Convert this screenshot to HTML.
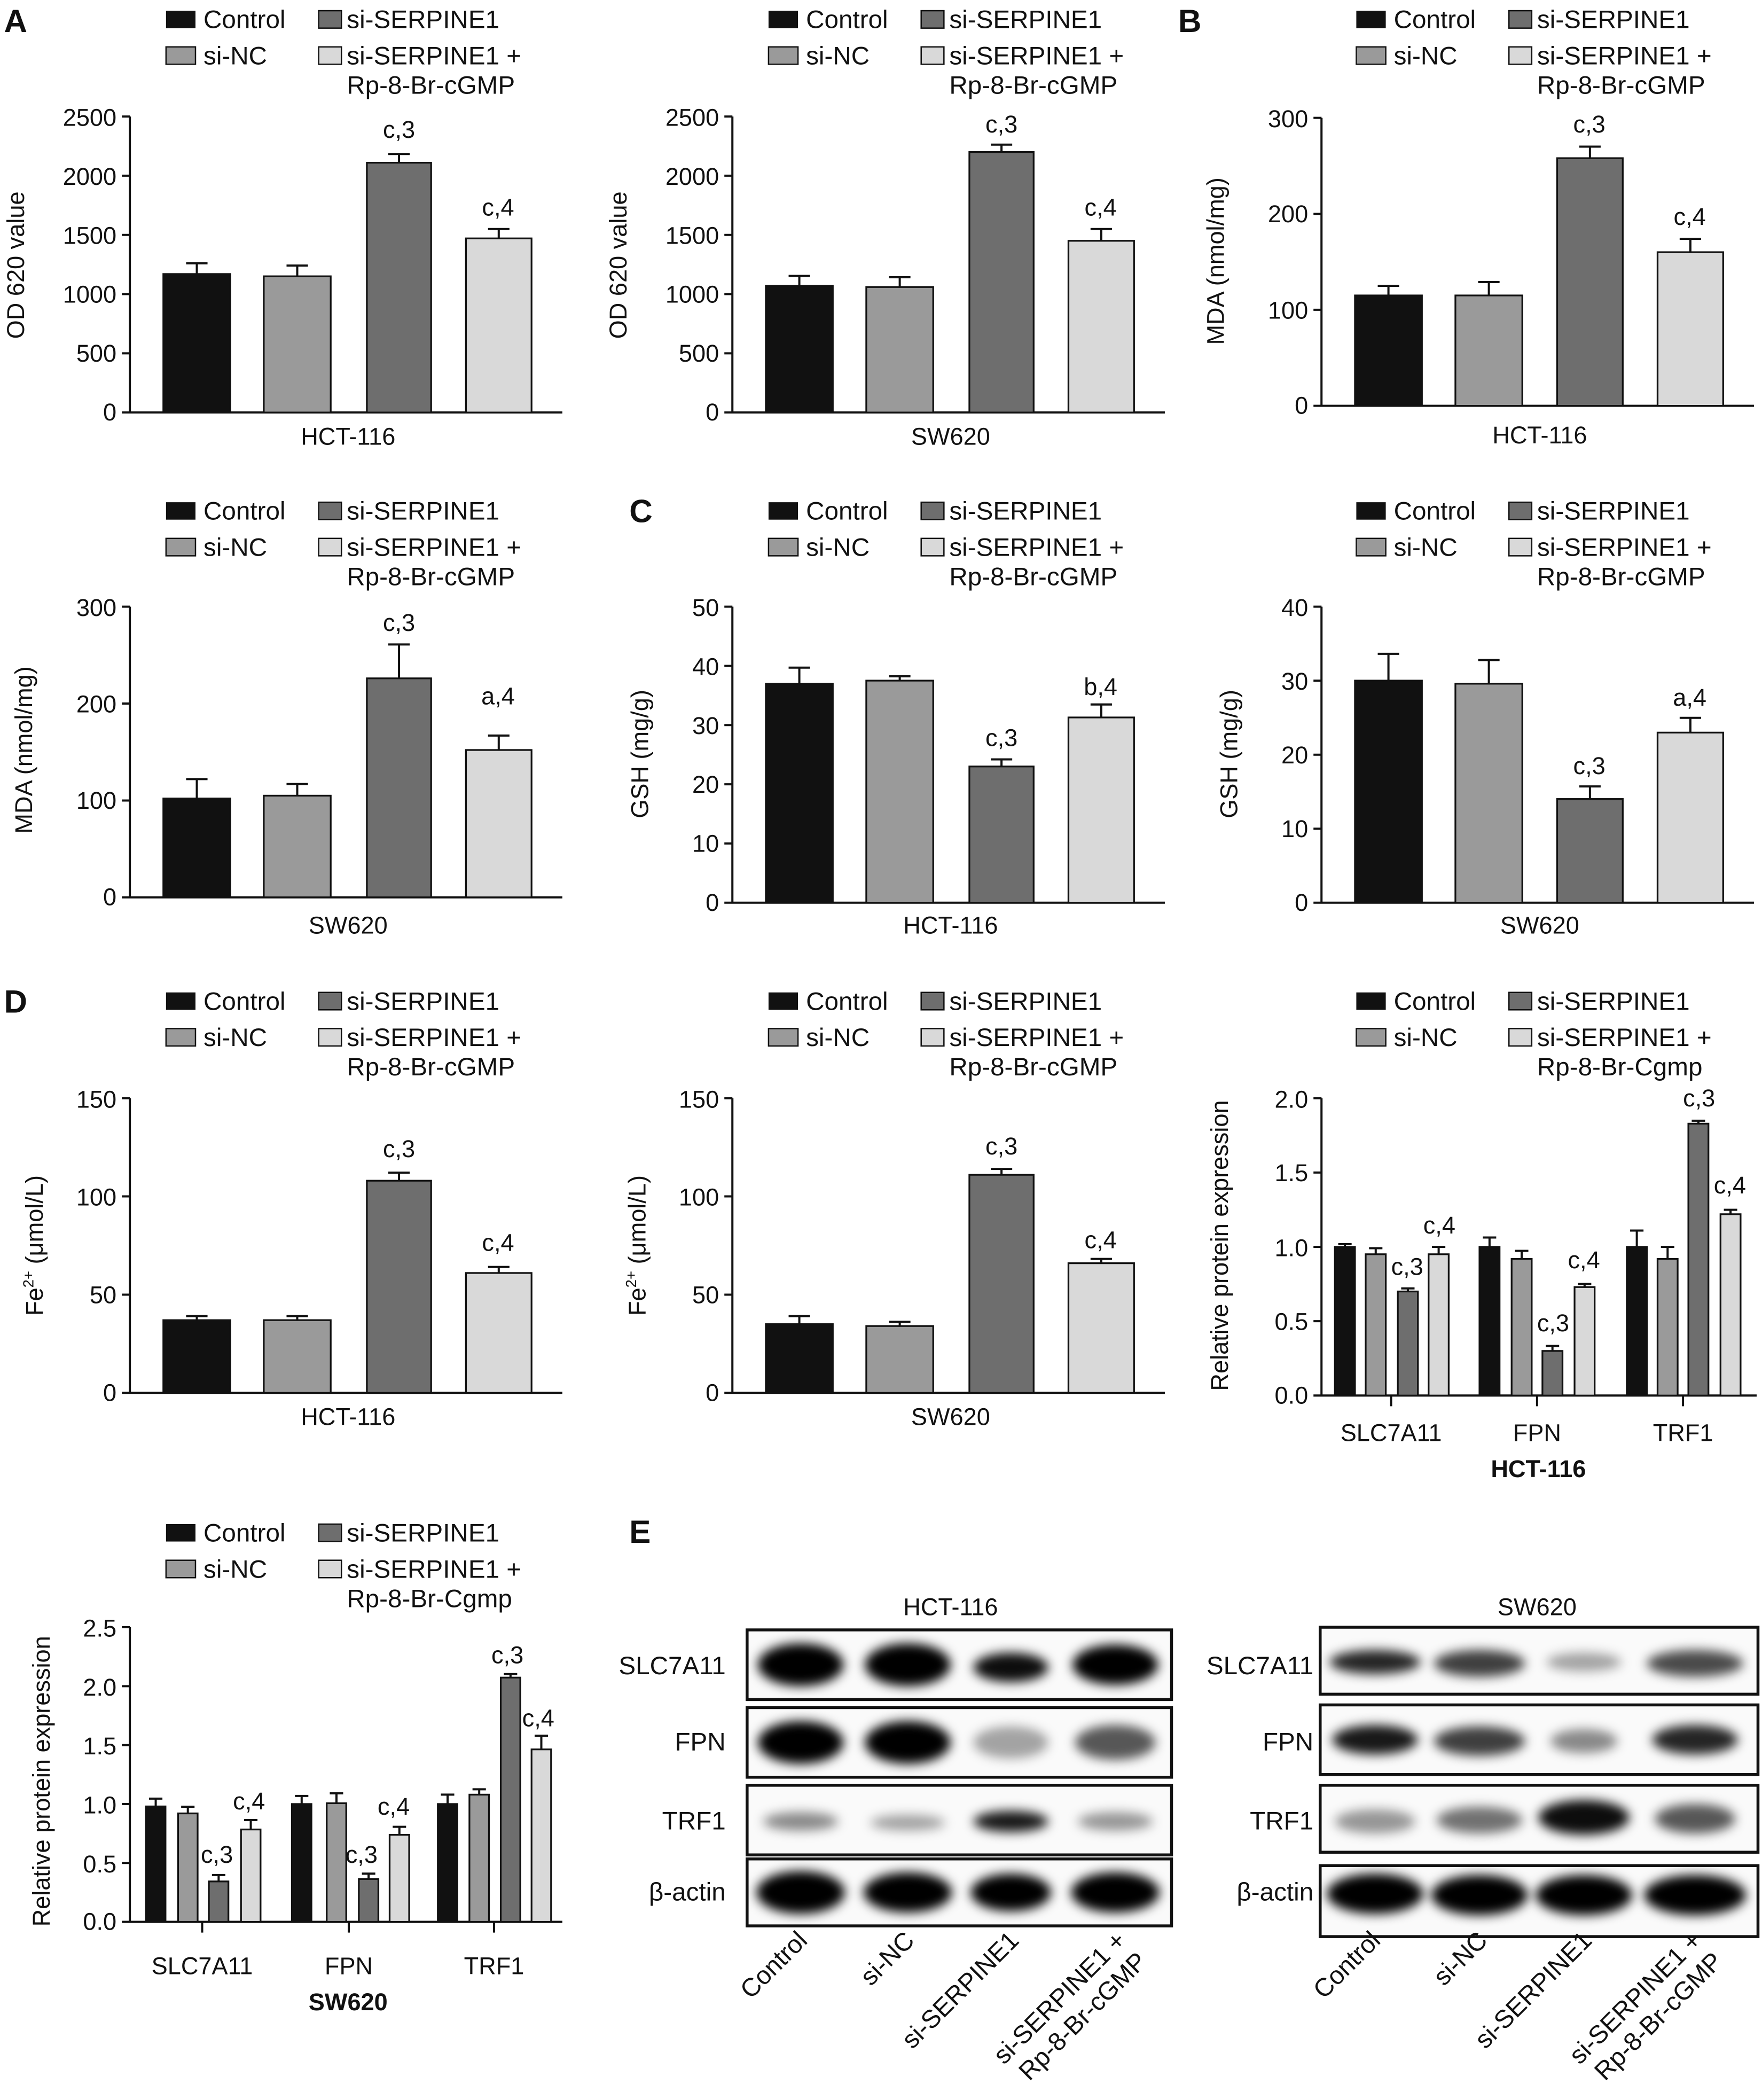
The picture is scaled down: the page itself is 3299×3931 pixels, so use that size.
<!DOCTYPE html>
<html><head><meta charset="utf-8"><style>
html,body{margin:0;padding:0;background:#fff}
svg{display:block}
text{font-family:"Liberation Sans",sans-serif;fill:#111}
.lg{font-size:19px}
.tk{font-size:18px}
.an{font-size:18px;text-anchor:middle}
.yl{font-size:18px;text-anchor:middle}
.xl{font-size:18px;text-anchor:middle}
.pl{font-size:24px;font-weight:bold}
.ax{stroke:#111;stroke-width:1.6;fill:none}
.b0{fill:#111;stroke:#111;stroke-width:1.3}
.b1{fill:#9a9a9a;stroke:#111;stroke-width:1.3}
.b2{fill:#6e6e6e;stroke:#111;stroke-width:1.3}
.b3{fill:#d9d9d9;stroke:#111;stroke-width:1.3}
.e{stroke:#111;stroke-width:1.6;fill:none}
</style></head><body>
<svg width="3299" height="3931" viewBox="0 0 1316 1568" preserveAspectRatio="none" xmlns="http://www.w3.org/2000/svg">
<defs>
<g id="leg">
<rect x="0" y="8" width="22" height="13" fill="#111"/><text class="lg" x="28" y="21">Control</text>
<rect x="114" y="8" width="17" height="13" fill="#6e6e6e" stroke="#111"/><text class="lg" x="135" y="21">si-SERPINE1</text>
<rect x="0" y="35" width="22" height="13" fill="#9a9a9a" stroke="#111"/><text class="lg" x="28" y="48">si-NC</text>
<rect x="114" y="35" width="17" height="13" fill="#d9d9d9" stroke="#111"/><text class="lg" x="135" y="48">si-SERPINE1 +</text>
<text class="lg" x="135" y="70">Rp-8-Br-cGMP</text>
</g>
<g id="leg2">
<rect x="0" y="8" width="22" height="13" fill="#111"/><text class="lg" x="28" y="21">Control</text>
<rect x="114" y="8" width="17" height="13" fill="#6e6e6e" stroke="#111"/><text class="lg" x="135" y="21">si-SERPINE1</text>
<rect x="0" y="35" width="22" height="13" fill="#9a9a9a" stroke="#111"/><text class="lg" x="28" y="48">si-NC</text>
<rect x="114" y="35" width="17" height="13" fill="#d9d9d9" stroke="#111"/><text class="lg" x="135" y="48">si-SERPINE1 +</text>
<text class="lg" x="135" y="70">Rp-8-Br-Cgmp</text>
</g>
<filter id="bl" x="-50%" y="-50%" width="200%" height="200%"><feGaussianBlur stdDeviation="4"/></filter>
</defs>

<text class="pl" x="3" y="24">A</text>
<text class="pl" x="880" y="24">B</text>
<text class="pl" x="470" y="390">C</text>
<text class="pl" x="3" y="756">D</text>
<text class="pl" x="470" y="1152">E</text>

<use href="#leg" x="124" y="0"/><use href="#leg" x="574" y="0"/><use href="#leg" x="1013" y="0"/>
<use href="#leg" x="124" y="367"/><use href="#leg" x="574" y="367"/><use href="#leg" x="1013" y="367"/>
<use href="#leg" x="124" y="733"/><use href="#leg" x="574" y="733"/><use href="#leg2" x="1013" y="733"/>
<use href="#leg2" x="124" y="1130"/>

<!-- A1 -->
<g>
<path class="ax" d="M97,87V308H420M91,87H97M91,131.2H97M91,175.4H97M91,219.6H97M91,263.8H97M91,308H97"/>
<g class="tk" text-anchor="end"><text x="87" y="94">2500</text><text x="87" y="138">2000</text><text x="87" y="182">1500</text><text x="87" y="226">1000</text><text x="87" y="270">500</text><text x="87" y="314">0</text></g>
<text class="yl" transform="translate(18,198) rotate(-90)">OD 620 value</text>
<rect class="b0" x="122" y="204.6" width="50" height="103.4"/><rect class="b1" x="197" y="206.3" width="50" height="101.7"/><rect class="b2" x="274" y="121.5" width="48" height="186.5"/><rect class="b3" x="348" y="178" width="49" height="130"/>
<path class="e" d="M147,204.6V196.6M139,196.6H155M222,206.3V198.3M214,198.3H230M298,121.5V115M290,115H306M372.5,178V171M364.5,171H380.5"/>
<text class="an" x="298" y="103">c,3</text><text class="an" x="372" y="161">c,4</text>
<text class="xl" x="260" y="332">HCT-116</text>
</g>
<!-- A2 -->
<g>
<path class="ax" d="M547,87V308H870M541,87H547M541,131.2H547M541,175.4H547M541,219.6H547M541,263.8H547M541,308H547"/>
<g class="tk" text-anchor="end"><text x="537" y="94">2500</text><text x="537" y="138">2000</text><text x="537" y="182">1500</text><text x="537" y="226">1000</text><text x="537" y="270">500</text><text x="537" y="314">0</text></g>
<text class="yl" transform="translate(468,198) rotate(-90)">OD 620 value</text>
<rect class="b0" x="572" y="213.4" width="50" height="94.6"/><rect class="b1" x="647" y="214.3" width="50" height="93.7"/><rect class="b2" x="724" y="113.5" width="48" height="194.5"/><rect class="b3" x="798" y="179.8" width="49" height="128.2"/>
<path class="e" d="M597,213.4V206M589,206H605M672,214.3V207M664,207H680M748,113.5V108M740,108H756M822.5,179.8V171M814.5,171H830.5"/>
<text class="an" x="748" y="99">c,3</text><text class="an" x="822" y="161">c,4</text>
<text class="xl" x="710" y="332">SW620</text>
</g>
<!-- B1 -->
<g>
<path class="ax" d="M987,88V303H1310M981,88H987M981,159.7H987M981,231.3H987M981,303H987"/>
<g class="tk" text-anchor="end"><text x="977" y="95">300</text><text x="977" y="166">200</text><text x="977" y="238">100</text><text x="977" y="309">0</text></g>
<text class="yl" transform="translate(914,195) rotate(-90)">MDA (nmol/mg)</text>
<rect class="b0" x="1012" y="220.6" width="50" height="82.4"/><rect class="b1" x="1087" y="220.6" width="50" height="82.4"/><rect class="b2" x="1163" y="118.1" width="49" height="184.9"/><rect class="b3" x="1238" y="188.3" width="49" height="114.7"/>
<path class="e" d="M1037,220.6V213.4M1029,213.4H1045M1112,220.6V210.6M1104,210.6H1120M1187.5,118.1V109.5M1179.5,109.5H1195.5M1262.5,188.3V178.3M1254.5,178.3H1270.5"/>
<text class="an" x="1187" y="99">c,3</text><text class="an" x="1262" y="168">c,4</text>
<text class="xl" x="1150" y="331">HCT-116</text>
</g>
<!-- B2 -->
<g>
<path class="ax" d="M97,453V670H420M91,453H97M91,525.3H97M91,597.7H97M91,670H97"/>
<g class="tk" text-anchor="end"><text x="87" y="460">300</text><text x="87" y="532">200</text><text x="87" y="604">100</text><text x="87" y="676">0</text></g>
<text class="yl" transform="translate(24,560) rotate(-90)">MDA (nmol/mg)</text>
<rect class="b0" x="122" y="596.2" width="50" height="73.8"/><rect class="b1" x="197" y="594.1" width="50" height="75.9"/><rect class="b2" x="274" y="506.5" width="48" height="163.5"/><rect class="b3" x="348" y="560" width="49" height="110"/>
<path class="e" d="M147,596.2V581.7M139,581.7H155M222,594.1V585.4M214,585.4H230M298,506.5V481.2M290,481.2H306M372.5,560V549.2M364.5,549.2H380.5"/>
<text class="an" x="298" y="471">c,3</text><text class="an" x="372" y="526">a,4</text>
<text class="xl" x="260" y="697">SW620</text>
</g>
<!-- C1 -->
<g>
<path class="ax" d="M547,453V674H870M541,453H547M541,497.2H547M541,541.4H547M541,585.6H547M541,629.8H547M541,674H547"/>
<g class="tk" text-anchor="end"><text x="537" y="460">50</text><text x="537" y="504">40</text><text x="537" y="548">30</text><text x="537" y="592">20</text><text x="537" y="636">10</text><text x="537" y="680">0</text></g>
<text class="yl" transform="translate(484,563) rotate(-90)">GSH (mg/g)</text>
<rect class="b0" x="572" y="510.5" width="50" height="163.5"/><rect class="b1" x="647" y="508.2" width="50" height="165.8"/><rect class="b2" x="724" y="572.3" width="48" height="101.7"/><rect class="b3" x="798" y="535.7" width="49" height="138.3"/>
<path class="e" d="M597,510.5V498.5M589,498.5H605M672,508.2V505M664,505H680M748,572.3V567M740,567H756M822.5,535.7V526M814.5,526H830.5"/>
<text class="an" x="748" y="557">c,3</text><text class="an" x="822" y="519">b,4</text>
<text class="xl" x="710" y="697">HCT-116</text>
</g>
<!-- C2 -->
<g>
<path class="ax" d="M987,453V674H1310M981,453H987M981,508.25H987M981,563.5H987M981,618.75H987M981,674H987"/>
<g class="tk" text-anchor="end"><text x="977" y="460">40</text><text x="977" y="515">30</text><text x="977" y="570">20</text><text x="977" y="625">10</text><text x="977" y="680">0</text></g>
<text class="yl" transform="translate(924,563) rotate(-90)">GSH (mg/g)</text>
<rect class="b0" x="1012" y="508.2" width="50" height="165.8"/><rect class="b1" x="1087" y="510.5" width="50" height="163.5"/><rect class="b2" x="1163" y="596.6" width="49" height="77.4"/><rect class="b3" x="1238" y="547" width="49" height="127"/>
<path class="e" d="M1037,508.2V488.2M1029,488.2H1045M1112,510.5V492.8M1104,492.8H1120M1187.5,596.6V587.2M1179.5,587.2H1195.5M1262.5,547V536M1254.5,536H1270.5"/>
<text class="an" x="1187" y="578">c,3</text><text class="an" x="1262" y="527">a,4</text>
<text class="xl" x="1150" y="697">SW620</text>
</g>
<!-- D1 -->
<g>
<path class="ax" d="M97,820V1040H420M91,820H97M91,893.3H97M91,966.7H97M91,1040H97"/>
<g class="tk" text-anchor="end"><text x="87" y="827">150</text><text x="87" y="900">100</text><text x="87" y="973">50</text><text x="87" y="1046">0</text></g>
<text class="yl" transform="translate(32,930) rotate(-90)">Fe<tspan dy="-7" font-size="11">2+</tspan><tspan dy="7"> (μmol/L)</tspan></text>
<rect class="b0" x="122" y="985.7" width="50" height="54.3"/><rect class="b1" x="197" y="985.7" width="50" height="54.3"/><rect class="b2" x="274" y="881.6" width="48" height="158.4"/><rect class="b3" x="348" y="950.5" width="49" height="89.5"/>
<path class="e" d="M147,985.7V982.7M139,982.7H155M222,985.7V982.7M214,982.7H230M298,881.6V875.6M290,875.6H306M372.5,950.5V946M364.5,946H380.5"/>
<text class="an" x="298" y="864">c,3</text><text class="an" x="372" y="934">c,4</text>
<text class="xl" x="260" y="1064">HCT-116</text>
</g>
<!-- D2 -->
<g>
<path class="ax" d="M547,820V1040H870M541,820H547M541,893.3H547M541,966.7H547M541,1040H547"/>
<g class="tk" text-anchor="end"><text x="537" y="827">150</text><text x="537" y="900">100</text><text x="537" y="973">50</text><text x="537" y="1046">0</text></g>
<text class="yl" transform="translate(482,930) rotate(-90)">Fe<tspan dy="-7" font-size="11">2+</tspan><tspan dy="7"> (μmol/L)</tspan></text>
<rect class="b0" x="572" y="988.7" width="50" height="51.3"/><rect class="b1" x="647" y="990.1" width="50" height="49.9"/><rect class="b2" x="724" y="877.2" width="48" height="162.8"/><rect class="b3" x="798" y="943.2" width="49" height="96.8"/>
<path class="e" d="M597,988.7V982.7M589,982.7H605M672,990.1V987M664,987H680M748,877.2V872.8M740,872.8H756M822.5,943.2V940M814.5,940H830.5"/>
<text class="an" x="748" y="862">c,3</text><text class="an" x="822" y="932">c,4</text>
<text class="xl" x="710" y="1064">SW620</text>
</g>
<!-- D3 -->
<g>
<path class="ax" d="M987,820V1042H1312M981,820H987M981,875.5H987M981,931H987M981,986.5H987M981,1042H987M1039,1042V1050M1148,1042V1050M1257,1042V1050"/>
<g class="tk" text-anchor="end"><text x="977" y="827">2.0</text><text x="977" y="882">1.5</text><text x="977" y="938">1.0</text><text x="977" y="993">0.5</text><text x="977" y="1048">0.0</text></g>
<text class="yl" transform="translate(917,930) rotate(-90)">Relative protein expression</text>
<rect class="b0" x="997" y="931" width="15" height="111"/><rect class="b1" x="1020" y="936.5" width="15" height="105.5"/><rect class="b2" x="1044" y="964.3" width="15" height="77.7"/><rect class="b3" x="1067" y="936.5" width="15" height="105.5"/>
<rect class="b0" x="1105" y="931" width="15" height="111"/><rect class="b1" x="1129" y="940" width="15" height="102"/><rect class="b2" x="1152" y="1008.7" width="15" height="33.3"/><rect class="b3" x="1176" y="961" width="15" height="81"/>
<rect class="b0" x="1215" y="931" width="15" height="111"/><rect class="b1" x="1238" y="940" width="15" height="102"/><rect class="b2" x="1261" y="839" width="15" height="203"/><rect class="b3" x="1285" y="906.6" width="15" height="135.4"/>
<path class="e" d="M1004.5,931V929M999.5,929H1009.5M1027.5,936.5V932M1022.5,932H1032.5M1051.5,964.3V962M1046.5,962H1056.5M1074.5,936.5V931M1069.5,931H1079.5M1112.5,931V924M1107.5,924H1117.5M1136.5,940V934M1131.5,934H1141.5M1159.5,1008.7V1005M1154.5,1005H1164.5M1183.5,961V958.7M1178.5,958.7H1188.5M1222.5,931V918.8M1217.5,918.8H1227.5M1245.5,940V931M1240.5,931H1250.5M1268.5,839V836.8M1263.5,836.8H1273.5M1292.5,906.6V903.3M1287.5,903.3H1297.5"/>
<text class="an" x="1051" y="952">c,3</text><text class="an" x="1075" y="921">c,4</text>
<text class="an" x="1160" y="994">c,3</text><text class="an" x="1183" y="947">c,4</text>
<text class="an" x="1269" y="826">c,3</text><text class="an" x="1292" y="891">c,4</text>
<g class="xl"><text x="1039" y="1076">SLC7A11</text><text x="1148" y="1076">FPN</text><text x="1257" y="1076">TRF1</text></g>
<text class="xl" x="1149" y="1103" font-weight="bold">HCT-116</text>
</g>
<!-- E1 SW620 -->
<g>
<path class="ax" d="M97,1215V1435H420M91,1215H97M91,1259H97M91,1303H97M91,1347H97M91,1391H97M91,1435H97M151,1435V1443M260.5,1435V1443M369,1435V1443"/>
<g class="tk" text-anchor="end"><text x="87" y="1222">2.5</text><text x="87" y="1266">2.0</text><text x="87" y="1310">1.5</text><text x="87" y="1354">1.0</text><text x="87" y="1398">0.5</text><text x="87" y="1441">0.0</text></g>
<text class="yl" transform="translate(37,1330) rotate(-90)">Relative protein expression</text>
<rect class="b0" x="109" y="1348.8" width="14.6" height="86.2"/><rect class="b1" x="133" y="1354" width="14.6" height="81"/><rect class="b2" x="156" y="1404.8" width="14.6" height="30.2"/><rect class="b3" x="180" y="1366" width="14.6" height="69"/>
<rect class="b0" x="218" y="1347" width="14.6" height="88"/><rect class="b1" x="244" y="1346.4" width="14.6" height="88.6"/><rect class="b2" x="268" y="1403" width="14.6" height="32"/><rect class="b3" x="291" y="1370" width="14.6" height="65"/>
<rect class="b0" x="327" y="1347" width="14.6" height="88"/><rect class="b1" x="350.6" y="1340" width="14.6" height="95"/><rect class="b2" x="374" y="1252.6" width="14.6" height="182.4"/><rect class="b3" x="397" y="1306.2" width="14.6" height="128.8"/>
<path class="e" d="M116.3,1348.8V1343M111.3,1343H121.3M140.3,1354V1349M135.3,1349H145.3M163.3,1404.8V1400M158.3,1400H168.3M187.3,1366V1359M182.3,1359H192.3M225.3,1347V1341M220.3,1341H230.3M251.3,1346.4V1339M246.3,1339H256.3M275.3,1403V1399M270.3,1399H280.3M298.3,1370V1364M293.3,1364H303.3M334.3,1347V1340M329.3,1340H339.3M357.9,1340V1336M352.9,1336H362.9M381.3,1252.6V1250M376.3,1250H386.3M404.3,1306.2V1296M399.3,1296H409.3"/>
<text class="an" x="162" y="1391">c,3</text><text class="an" x="186" y="1351">c,4</text>
<text class="an" x="270" y="1391">c,3</text><text class="an" x="294" y="1355">c,4</text>
<text class="an" x="379" y="1242">c,3</text><text class="an" x="402" y="1289">c,4</text>
<g class="xl"><text x="151" y="1474">SLC7A11</text><text x="260.5" y="1474">FPN</text><text x="369" y="1474">TRF1</text></g>
<text class="xl" x="260" y="1501" font-weight="bold">SW620</text>
</g>

<!-- Western blots -->
<text class="xl" x="710" y="1206">HCT-116</text>
<text class="xl" x="1148" y="1206">SW620</text>
<g class="lg" text-anchor="end">
<text x="542" y="1250">SLC7A11</text><text x="542" y="1307">FPN</text><text x="542" y="1366">TRF1</text><text x="542" y="1419">β-actin</text>
<text x="981" y="1250">SLC7A11</text><text x="981" y="1307">FPN</text><text x="981" y="1366">TRF1</text><text x="981" y="1419">β-actin</text>
</g>
<g stroke="#111" stroke-width="2.2" fill="#fafafa">
<rect x="558" y="1217" width="317" height="52"/><rect x="558" y="1275" width="317" height="52"/><rect x="558" y="1333" width="317" height="52"/><rect x="558" y="1388" width="317" height="50"/>
<rect x="986" y="1215" width="327" height="50"/><rect x="986" y="1273" width="327" height="52"/><rect x="986" y="1333" width="327" height="50"/><rect x="986" y="1393" width="327" height="53"/>
</g>
<g filter="url(#bl)" fill="#000">
<ellipse cx="598" cy="1243" rx="32" ry="16"/><ellipse cx="678" cy="1243" rx="32" ry="16"/><ellipse cx="755" cy="1245" rx="28" ry="11" opacity=".95"/><ellipse cx="833" cy="1243" rx="32" ry="15"/>
<ellipse cx="598" cy="1301" rx="32" ry="16"/><ellipse cx="678" cy="1301" rx="32" ry="16"/><ellipse cx="755" cy="1301" rx="28" ry="12" opacity=".35"/><ellipse cx="833" cy="1301" rx="30" ry="13" opacity=".65"/>
<ellipse cx="598" cy="1360" rx="28" ry="7" opacity=".45"/><ellipse cx="678" cy="1361" rx="28" ry="6" opacity=".35"/><ellipse cx="755" cy="1360" rx="28" ry="8" opacity=".9"/><ellipse cx="833" cy="1360" rx="28" ry="7" opacity=".4"/>
<ellipse cx="598" cy="1413" rx="33" ry="16"/><ellipse cx="678" cy="1413" rx="33" ry="15"/><ellipse cx="755" cy="1413" rx="30" ry="14"/><ellipse cx="833" cy="1413" rx="33" ry="15"/>
<ellipse cx="1027" cy="1241" rx="34" ry="9" opacity=".85"/><ellipse cx="1105" cy="1242" rx="34" ry="10" opacity=".75"/><ellipse cx="1183" cy="1241" rx="28" ry="7" opacity=".35"/><ellipse cx="1266" cy="1242" rx="36" ry="10" opacity=".7"/>
<ellipse cx="1027" cy="1299" rx="32" ry="11" opacity=".9"/><ellipse cx="1105" cy="1300" rx="34" ry="11" opacity=".75"/><ellipse cx="1183" cy="1300" rx="25" ry="9" opacity=".45"/><ellipse cx="1266" cy="1299" rx="32" ry="11" opacity=".85"/>
<ellipse cx="1027" cy="1360" rx="30" ry="9" opacity=".4"/><ellipse cx="1105" cy="1359" rx="32" ry="10" opacity=".55"/><ellipse cx="1183" cy="1357" rx="34" ry="13" opacity=".95"/><ellipse cx="1266" cy="1358" rx="30" ry="11" opacity=".65"/>
<ellipse cx="1027" cy="1414" rx="36" ry="15"/><ellipse cx="1105" cy="1415" rx="36" ry="15"/><ellipse cx="1183" cy="1415" rx="36" ry="15"/><ellipse cx="1266" cy="1415" rx="38" ry="15"/>
</g>
<g class="lg" text-anchor="end">
<text transform="translate(604,1450) rotate(-45)">Control</text>
<text transform="translate(684,1450) rotate(-45)">si-NC</text>
<text transform="translate(762,1450) rotate(-45)">si-SERPINE1</text>
<text transform="translate(842,1450) rotate(-45)"><tspan x="0" y="0">si-SERPINE1 +</tspan><tspan x="0" y="22">Rp-8-Br-cGMP</tspan></text>
<text transform="translate(1032,1450) rotate(-45)">Control</text>
<text transform="translate(1112,1450) rotate(-45)">si-NC</text>
<text transform="translate(1190,1450) rotate(-45)">si-SERPINE1</text>
<text transform="translate(1272,1450) rotate(-45)"><tspan x="0" y="0">si-SERPINE1 +</tspan><tspan x="0" y="22">Rp-8-Br-cGMP</tspan></text>
</g>
</svg>
</body></html>
